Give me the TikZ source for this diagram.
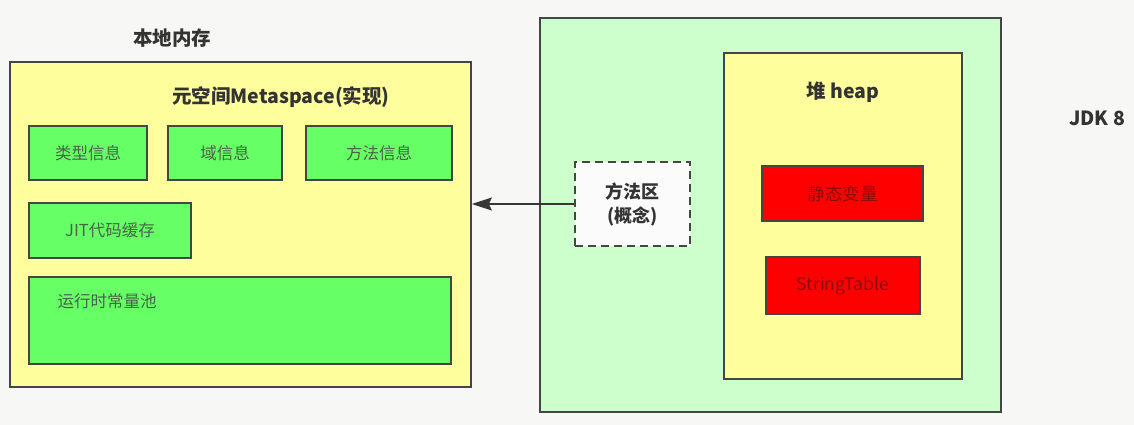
\documentclass[tikz,border=0pt]{standalone}
\usepackage{fontspec}
\setmainfont{Noto Sans CJK SC}
\usetikzlibrary{arrows.meta}
\definecolor{bgc}{HTML}{F7F7F5}
\definecolor{paleyellow}{HTML}{FEFE9C}
\definecolor{boxgreen}{HTML}{66FF66}
\definecolor{palegreen}{HTML}{CCFFCC}
\definecolor{boxred}{HTML}{FF0000}
\definecolor{edge}{HTML}{454545}
\definecolor{labeltext}{HTML}{333333}
\definecolor{greentext}{HTML}{4A634A}
\definecolor{redtext}{HTML}{8A0C0C}
\tikzset{
  box/.style={draw=edge, line width=1.7pt, rectangle, inner sep=0pt},
  ybox/.style={box, fill=paleyellow},
  gbox/.style={box, fill=boxgreen, text=greentext, font=\fontsize{16.5}{19}\selectfont},
  lgbox/.style={box, fill=palegreen},
  rbox/.style={box, fill=boxred, text=redtext, font=\fontsize{17.5}{20}\selectfont},
  dbox/.style={draw=edge, line width=1.8pt, dash pattern=on 8pt off 5pt, fill=white!97!gray, rectangle, inner sep=0pt, align=center, text=labeltext, font=\bfseries\fontsize{18}{24}\selectfont},
  title/.style={text=labeltext, font=\bfseries\fontsize{19.5}{22}\selectfont, inner sep=0pt},
  plain/.style={text=greentext, font=\fontsize{16.5}{19}\selectfont, inner sep=0pt},
}
\begin{document}
\begin{tikzpicture}[x=1pt,y=-1pt]
\fill[bgc] (0,0) rectangle (1134,425);
\useasboundingbox (0,0) rectangle (1134,425);
% left: native memory / metaspace
\node[title] (native) at (172,38) {本地内存};
\node[ybox, minimum width=461pt, minimum height=325pt] (meta) at (240.5,224.5) {};
\node[title] (metatitle) at (281,97) {元空间Metaspace(实现)};
\node[gbox, minimum width=118pt, minimum height=54pt] (type) at (88,153) {类型信息};
\node[gbox, minimum width=114pt, minimum height=54pt] (field) at (225,153) {域信息};
\node[gbox, minimum width=146pt, minimum height=54pt] (method) at (379,153) {方法信息};
\node[gbox, minimum width=162pt, minimum height=55pt] (jit) at (110,230.5) {JIT代码缓存};
\node[gbox, minimum width=422pt, minimum height=87pt] (pool) at (240,320.5) {};
\node[plain] (pooltext) at (107,301) {运行时常量池};
% right: JVM
\node[lgbox, minimum width=461pt, minimum height=394pt] (jvm) at (770.5,215) {};
\node[ybox, minimum width=238pt, minimum height=326pt] (heap) at (843,216) {};
\node[title] (heaptitle) at (843,92) {堆 heap};
\node[rbox, minimum width=161pt, minimum height=55pt] (static) at (842.5,193.5) {静态变量};
\node[rbox, minimum width=154pt, minimum height=57pt] (strtab) at (843,285.5) {StringTable};
\node[dbox, minimum width=115pt, minimum height=84pt] (area) at (632.5,204) {方法区\\(概念)};
\node[title] (jdk) at (1097,118) {JDK 8};
% connector
\draw[draw=edge!80!black, line width=1.8pt, -{Stealth[length=20pt,width=13pt,inset=3pt]}] (area.west) -- (area.west -| meta.east);
\end{tikzpicture}
\end{document}
